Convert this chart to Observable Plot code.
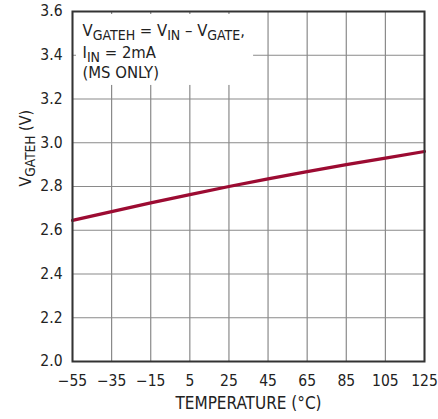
<!DOCTYPE html>
<html><head><meta charset="utf-8">
<script src="https://cdn.jsdelivr.net/npm/d3@7"></script>
<script src="https://cdn.jsdelivr.net/npm/@observablehq/plot@0.6"></script>
<style>body{margin:0;background:#fff}</style>
</head><body><div id="chart"></div>
<script>
const temperature = [-55, -35, -15, 5, 25, 45, 65, 85, 105, 125];
const vgateh = [2.645, 2.685, 2.725, 2.763, 2.800, 2.835, 2.868, 2.900, 2.930, 2.960];
const xTicks = [-55, -35, -15, 5, 25, 45, 65, 85, 105, 125];
const yTicks = [2.0, 2.2, 2.4, 2.6, 2.8, 3.0, 3.2, 3.4, 3.6];
const annotation = ["V_{GATEH} = V_{IN} \u2013 V_{GATE},", "I_{IN} = 2mA", "(MS ONLY)"];
const annotationBox = {x1: -55, x2: 37.6, y1: 3.262, y2: 3.6};
const yLabel = "V_{GATEH} (V)";
const xLabel = "TEMPERATURE (°C)";

const data = temperature.map((t, i) => ({t, v: vgateh[i]}));
const font = "'Liberation Sans Narrow', 'DejaVu Sans Condensed', 'Roboto Condensed', sans-serif";

const plot = Plot.plot({
  width: 438, height: 419,
  marginLeft: 72, marginRight: 14, marginTop: 11, marginBottom: 58,
  style: {fontFamily: font, fontSize: "15px", color: "#222", background: "#fff"},
  x: {domain: [-55, 125]},
  y: {domain: [2.0, 3.6]},
  marks: [
    Plot.gridX(xTicks, {stroke: "#8a8a8a", strokeOpacity: 1, strokeWidth: 1.2}),
    Plot.gridY(yTicks, {stroke: "#8a8a8a", strokeOpacity: 1, strokeWidth: 1.2}),
    Plot.rect([annotationBox], {x1: "x1", x2: "x2", y1: "y1", y2: "y2", fill: "white", insetLeft: 4, insetTop: 3}),
    Plot.axisX(xTicks, {tickSize: 0, tickPadding: 13, fontSize: 15.5, label: null, tickFormat: d3.format("d")}),
    Plot.axisY(yTicks, {tickSize: 0, tickPadding: 10, fontSize: 15.5, label: null, tickFormat: d3.format(".1f")}),
    Plot.line(data, {x: "t", y: "v", stroke: "#9c0b32", strokeWidth: 3.2}),
    Plot.frame({stroke: "#333", strokeWidth: 2}),
    ...annotation.map((s, i) => Plot.text([s], {frameAnchor: "top-left", dx: 10, dy: [19, 41, 61][i], textAnchor: "start", lineAnchor: "middle", fontSize: 16.5, fill: "#222", className: "sub"})),
    Plot.text([yLabel], {frameAnchor: "left", dx: -47, rotate: -90, fontSize: 16, fill: "#222", className: "sub"}),
    Plot.text([xLabel], {frameAnchor: "bottom", dy: 47, fontSize: 17, fill: "#222"})
  ]
});

const ns = "http://www.w3.org/2000/svg";
plot.querySelectorAll("text").forEach(el => {
  const s = el.textContent;
  if (!s.includes("_{")) return;
  while (el.firstChild) el.removeChild(el.firstChild);
  for (const p of s.split(/(_\{[^}]*\})/)) {
    if (!p) continue;
    const ts = document.createElementNS(ns, "tspan");
    if (p.startsWith("_{")) {
      ts.textContent = p.slice(2, -1);
      ts.setAttribute("baseline-shift", "-25%");
      ts.setAttribute("font-size", "0.85em");
    } else ts.textContent = p;
    el.appendChild(ts);
  }
});
document.getElementById("chart").appendChild(plot);
</script>
</body></html>
